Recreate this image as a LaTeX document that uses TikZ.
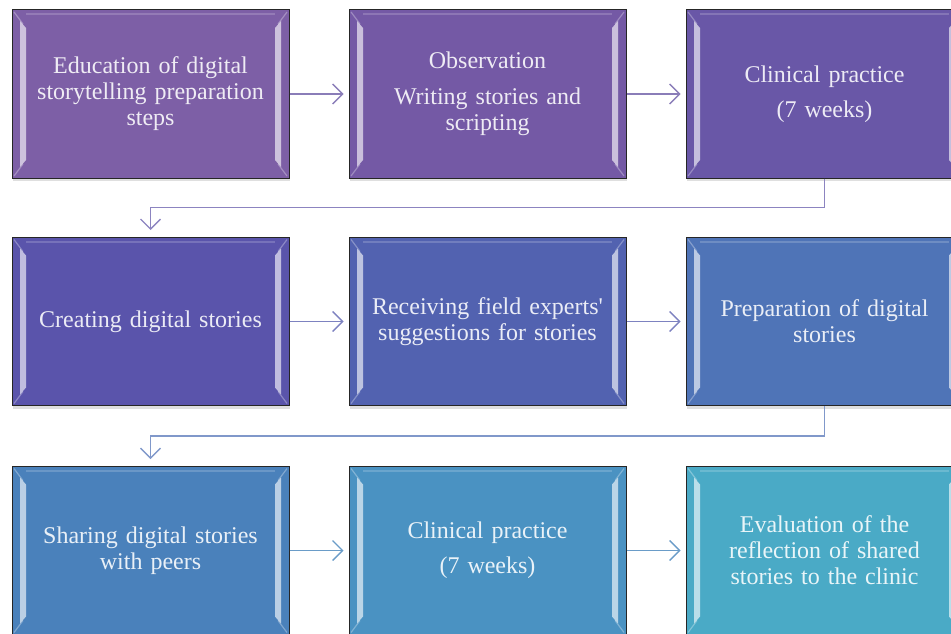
\documentclass[tikz,border=0pt]{standalone}
\usepackage{fontspec}
\setmainfont{Liberation Serif}[Ligatures=TeXOff]
\usetikzlibrary{arrows.meta,calc,shadows}
\definecolor{c1}{HTML}{7D5FA6}
\definecolor{c2}{HTML}{7459A5}
\definecolor{c3}{HTML}{6957A7}
\definecolor{c4}{HTML}{5A54AB}
\definecolor{c5}{HTML}{5262B0}
\definecolor{c6}{HTML}{4F74B7}
\definecolor{c7}{HTML}{4A81BB}
\definecolor{c8}{HTML}{4A92C2}
\definecolor{c9}{HTML}{4AAAC6}
\definecolor{a1}{HTML}{8A7DB8}
\definecolor{a2}{HTML}{7D82C0}
\definecolor{a3}{HTML}{6A9CC8}
\definecolor{k1}{HTML}{8C84C0}
\definecolor{k2}{HTML}{8098CA}
\tikzset{
  box/.style={draw=black!85, line width=1pt, fill=#1, text=white!88!#1,
    minimum width=277pt, minimum height=168pt, inner sep=0pt,
    text width=260pt, align=center, font=\fontsize{24}{26}\selectfont,
    drop shadow={shadow xshift=1pt, shadow yshift=-3pt, opacity=.25},
    path picture={
      \fill[white,opacity=.62]
        ([shift={(8pt,-11pt)}]path picture bounding box.north west) --
        ([shift={(14pt,-18pt)}]path picture bounding box.north west) --
        ([shift={(14pt,18pt)}]path picture bounding box.south west) --
        ([shift={(8pt,11pt)}]path picture bounding box.south west) -- cycle;
      \fill[white,opacity=.62]
        ([shift={(-8pt,-11pt)}]path picture bounding box.north east) --
        ([shift={(-14pt,-18pt)}]path picture bounding box.north east) --
        ([shift={(-14pt,18pt)}]path picture bounding box.south east) --
        ([shift={(-8pt,11pt)}]path picture bounding box.south east) -- cycle;
      \draw[white,opacity=.3,line width=1.2pt]
        ([shift={(2pt,-2pt)}]path picture bounding box.north west) --
        ([shift={(11pt,-14pt)}]path picture bounding box.north west)
        ([shift={(2pt,2pt)}]path picture bounding box.south west) --
        ([shift={(11pt,14pt)}]path picture bounding box.south west)
        ([shift={(-2pt,-2pt)}]path picture bounding box.north east) --
        ([shift={(-11pt,-14pt)}]path picture bounding box.north east)
        ([shift={(-2pt,2pt)}]path picture bounding box.south east) --
        ([shift={(-11pt,14pt)}]path picture bounding box.south east);
      \draw[white,opacity=.18,line width=2pt]
        ([shift={(14pt,-4pt)}]path picture bounding box.north west) --
        ([shift={(-14pt,-4pt)}]path picture bounding box.north east);
    }},
  conn/.style={line width=1.3pt, draw=#1,
    -{Straight Barb[length=10pt,width=20pt,line width=1.3pt]}},
}
\begin{document}
\begin{tikzpicture}[x=1pt,y=-1pt]
\useasboundingbox (0,0) rectangle (951,634);
\clip (0,0) rectangle (951,634);
\node[box=c1] (b1) at (150.5,94) {Education of digital\\storytelling preparation\\steps};
\node[box=c2] (b2) at (487.5,94) {Observation\\[10pt]Writing stories and\\scripting};
\node[box=c3] (b3) at (824.5,94) {Clinical practice\\[9pt](7 weeks)};
\node[box=c4] (b4) at (150.5,321.5) {Creating digital stories};
\node[box=c5] (b5) at (487.5,321.5) {Receiving field experts'\\suggestions for stories};
\node[box=c6] (b6) at (824.5,321.5) {Preparation of digital\\stories};
\node[box=c7] (b7) at (150.5,550.5) {Sharing digital stories\\with peers};
\node[box=c8] (b8) at (487.5,550.5) {Clinical practice\\[9pt](7 weeks)};
\node[box=c9] (b9) at (824.5,550.5) {Evaluation of the\\reflection of shared\\stories to the clinic};
\draw[conn=a1, shorten >=5pt] (b1) -- (b2);
\draw[conn=a1, shorten >=5pt] (b2) -- (b3);
\draw[conn=a2, shorten >=5pt] (b4) -- (b5);
\draw[conn=a2, shorten >=5pt] (b5) -- (b6);
\draw[conn=a3, shorten >=5pt] (b7) -- (b8);
\draw[conn=a3, shorten >=5pt] (b8) -- (b9);
\coordinate (m1) at ($(b3.south)!.5!(b4.north)$);
\coordinate (m2) at ($(b6.south)!.5!(b7.north)$);
\draw[conn=k1, shorten >=7pt] (b3.south) -- (b3.south |- m1) -| (b4.north);
\draw[conn=k2, shorten >=7pt] (b6.south) -- (b6.south |- m2) -| (b7.north);
\end{tikzpicture}
\end{document}
